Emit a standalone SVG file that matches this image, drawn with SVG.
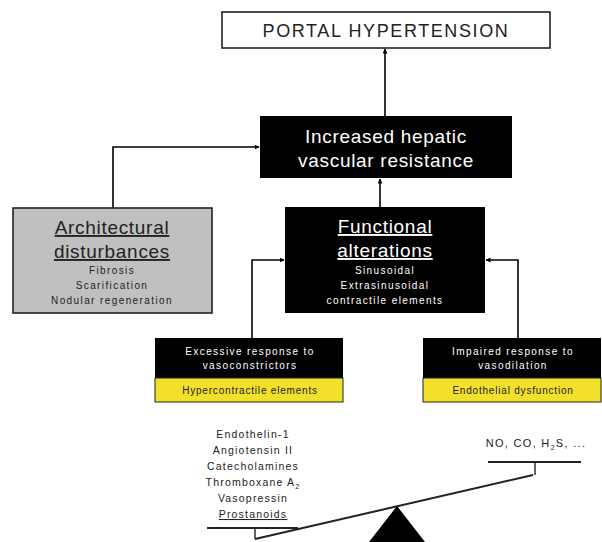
<svg xmlns="http://www.w3.org/2000/svg" width="602" height="542" viewBox="0 0 602 542">
<defs>
<marker id="ah" viewBox="0 0 10 10" refX="9" refY="5" markerWidth="5" markerHeight="5" orient="auto" markerUnits="userSpaceOnUse">
<path d="M0,0 L10,5 L0,10 z" fill="#000"/>
</marker>
<style>
text{font-family:"Liberation Sans",Arial,sans-serif;text-anchor:middle}
.conn{stroke:#000;stroke-width:1.6;fill:none}
.big{font-size:19px;letter-spacing:0.7px}
.ttl{font-size:19px;letter-spacing:0.7px;text-decoration:underline}
.sm{font-size:10px;letter-spacing:1.4px}
.ye{font-size:10px;letter-spacing:0.8px}
.lst{font-size:10.5px;letter-spacing:1.2px}
.w{fill:#fff}
.k{fill:#222}
</style>
</defs>
<rect width="602" height="542" fill="#fff"/>
<g id="connectors">
<path class="conn" d="M385,116 V49" marker-end="url(#ah)"/>
<path class="conn" d="M113,208 V147 H259" marker-end="url(#ah)"/>
<path class="conn" d="M380,207 V179" marker-end="url(#ah)"/>
<path class="conn" d="M252,338 V260 H284" marker-end="url(#ah)"/>
<path class="conn" d="M518,338 V260 H486" marker-end="url(#ah)"/>
</g>
<g id="portal">
<rect x="222" y="12" width="328" height="36" fill="#fff" stroke="#222" stroke-width="1.6"/>
<text x="386" y="37" class="k" style="font-size:18px;letter-spacing:1.6px">PORTAL HYPERTENSION</text>
</g>
<g id="increased">
<rect x="260" y="116" width="252" height="62" fill="#000"/>
<text x="386" y="143" class="w big">Increased hepatic</text>
<text x="386" y="167" class="w big">vascular resistance</text>
</g>
<g id="architectural">
<rect x="13" y="208" width="199" height="105" fill="#c0c0c0" stroke="#222" stroke-width="1.6"/>
<text x="112" y="234" class="k ttl">Architectural</text>
<text x="112" y="258" class="k ttl">disturbances</text>
<text x="112" y="274" class="k sm">Fibrosis</text>
<text x="112" y="289" class="k sm">Scarification</text>
<text x="112" y="304" class="k sm">Nodular regeneration</text>
</g>
<g id="functional">
<rect x="285" y="207" width="200" height="106" fill="#000"/>
<text x="385" y="233" class="w ttl">Functional</text>
<text x="385" y="257" class="w ttl">alterations</text>
<text x="385" y="274" class="w sm">Sinusoidal</text>
<text x="385" y="289" class="w sm">Extrasinusoidal</text>
<text x="385" y="304" class="w sm">contractile elements</text>
</g>
<g id="excessive">
<rect x="155" y="338" width="188" height="40" fill="#000"/>
<rect x="155" y="378" width="188" height="24" fill="#f2e02a" stroke="#222" stroke-width="1"/>
<text x="250" y="355" class="w sm">Excessive response to</text>
<text x="250" y="369" class="w sm">vasoconstrictors</text>
<text x="250" y="394" class="k ye">Hypercontractile elements</text>
</g>
<g id="impaired">
<rect x="423" y="338" width="178" height="40" fill="#000"/>
<rect x="423" y="378" width="178" height="24" fill="#f2e02a" stroke="#222" stroke-width="1"/>
<text x="513" y="355" class="w sm">Impaired response to</text>
<text x="513" y="369" class="w sm">vasodilation</text>
<text x="513" y="394" class="k ye">Endothelial dysfunction</text>
</g>
<g id="vasoconstrictors">
<text x="253" y="438" class="k lst">Endothelin-1</text>
<text x="253" y="454" class="k lst">Angiotensin II</text>
<text x="253" y="470" class="k lst">Catecholamines</text>
<text x="253" y="486" class="k lst">Thromboxane A<tspan style="font-size:7px" dy="3">2</tspan></text>
<text x="253" y="502" class="k lst">Vasopressin</text>
<text x="253" y="518" class="k lst" style="text-decoration:underline">Prostanoids</text>
</g>
<g id="vasodilators">
<text x="536" y="447" class="k lst" style="font-size:11px;letter-spacing:1.3px">NO, CO, H<tspan style="font-size:7px" dy="3">2</tspan><tspan dy="-3">S, ...</tspan></text>
</g>
<g id="balance">
<path d="M207,528 H298" stroke="#222" stroke-width="2" fill="none"/>
<path d="M255,528 V539" stroke="#222" stroke-width="1.4" fill="none"/>
<path d="M255,539 L533,475" stroke="#222" stroke-width="2" fill="none"/>
<path d="M488,462 H581" stroke="#222" stroke-width="2" fill="none"/>
<path d="M535,462 V475" stroke="#222" stroke-width="1.4" fill="none"/>
<polygon points="397,506 369,542 425,542" fill="#000"/>
</g>
</svg>
